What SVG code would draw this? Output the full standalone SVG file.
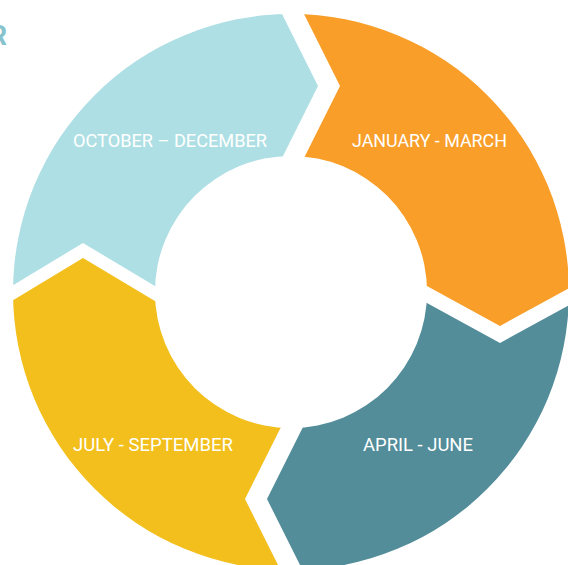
<svg xmlns="http://www.w3.org/2000/svg" width="568" height="565" viewBox="0 0 568 565">
  <style>
    .label { font-family: Roboto, "Liberation Sans", sans-serif; font-size: 18px; fill: #ffffff; }
    .title { font-family: Roboto, "Liberation Sans", sans-serif; font-size: 27px; font-weight: bold; fill: #86c3cd; }
  </style>
  <defs>
    <!-- ring shared by all four quarter segments -->
    <clipPath id="ring">
      <path clip-rule="evenodd" d="M291,14 A278,278 0 1,1 291,570 A278,278 0 1,1 291,14 Z M291,156 A136,136 0 1,0 291,428 A136,136 0 1,0 291,156 Z"/>
    </clipPath>
  </defs>
  <rect width="568" height="565" fill="#ffffff"/>

  <text class="title" x="7" y="45" text-anchor="end">R</text>

  <g id="oct-dec">
    <polygon clip-path="url(#ring)" fill="#aedfe4" points="-10,299 83,243 175,298 291,292 273.5,175 318,86 275,0 -10,0"/>
    <text class="label" x="73" y="147" textLength="194" lengthAdjust="spacingAndGlyphs">OCTOBER – DECEMBER</text>
  </g>

  <g id="jan-mar">
    <polygon clip-path="url(#ring)" fill="#f89e29" points="297,0 340,86 295.5,175 291,292 410,276.7 500,326 590,276.7 590,0"/>
    <text class="label" x="352" y="147" textLength="155" lengthAdjust="spacingAndGlyphs">JANUARY - MARCH</text>
  </g>

  <g id="apr-jun">
    <polygon clip-path="url(#ring)" fill="#538d9a" points="590,293.7 500,343 410,293.7 291,292 311.5,410 267,499 312.5,590 590,590"/>
    <text class="label" x="363" y="450.5" textLength="110" lengthAdjust="spacingAndGlyphs">APRIL - JUNE</text>
  </g>

  <g id="jul-sep">
    <polygon clip-path="url(#ring)" fill="#f2bf1c" points="290.5,590 245,499 289.5,410 291,292 175,313 83,258 -10,314 -10,590"/>
    <text class="label" x="73" y="450.5" textLength="160" lengthAdjust="spacingAndGlyphs">JULY - SEPTEMBER</text>
  </g>

  <!-- segments abut through their chevron gaps; no separate connector lines -->
  <g id="connectors"/>
</svg>
